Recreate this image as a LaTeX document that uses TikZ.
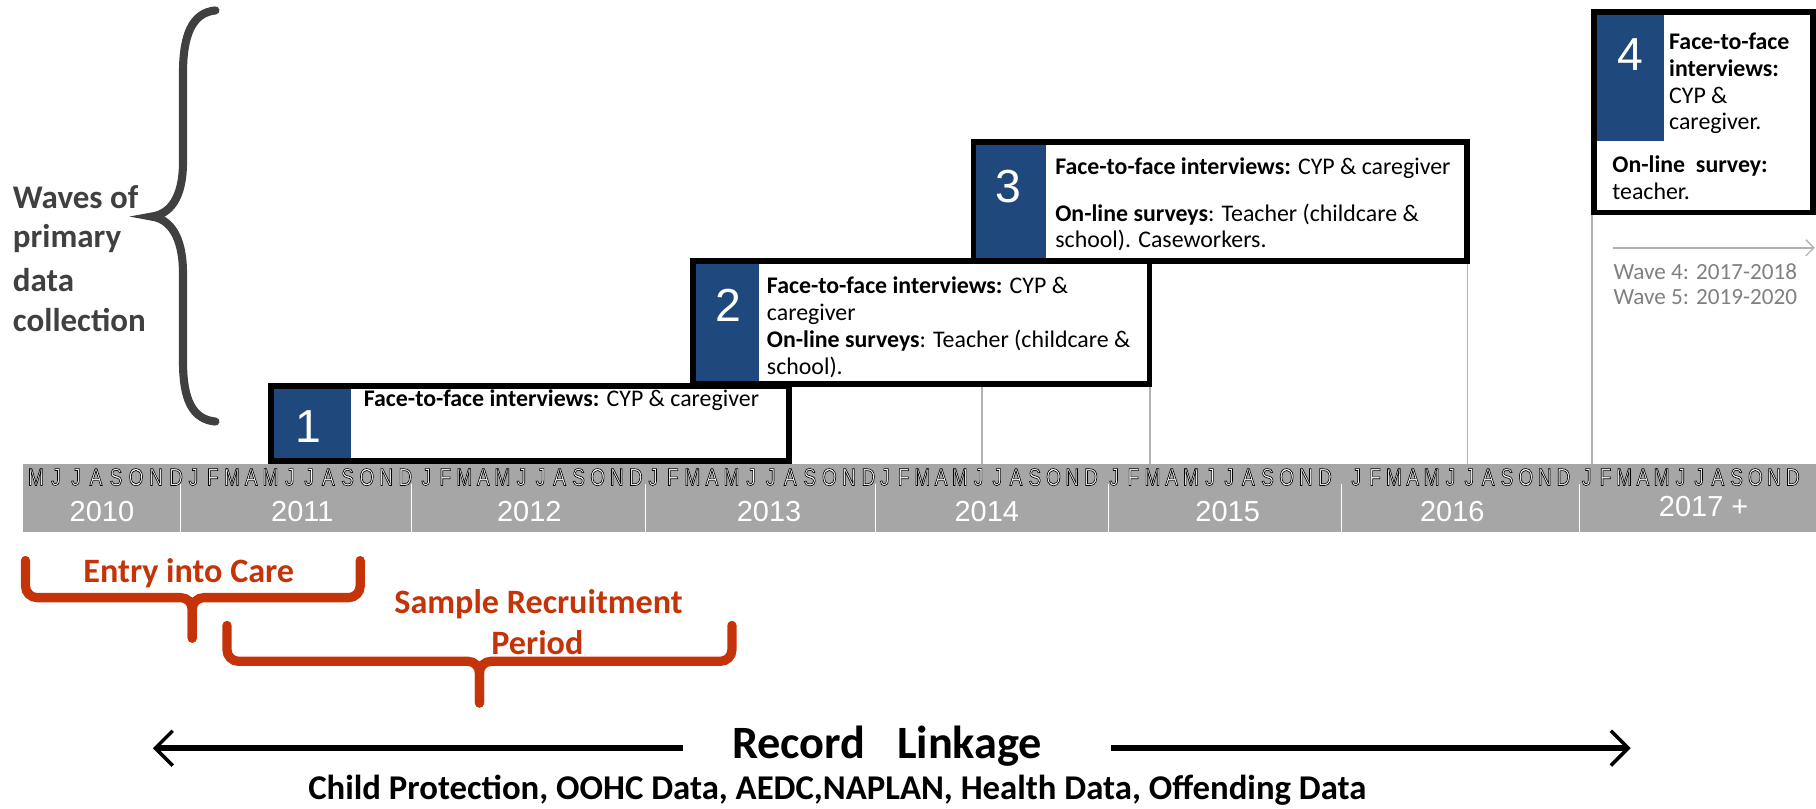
\documentclass[tikz,border=0pt]{standalone}
\usepackage{fontspec}
\setmainfont{Carlito}
\newfontfamily\arialf{Liberation Sans}
\newfontfamily\monthf[FakeStretch=0.78]{Liberation Sans}
\newcommand\outlinetext[1]{\special{pdf:literal direct 2 Tr 0.55 w 0 G}#1\special{pdf:literal direct 0 Tr}}
\usetikzlibrary{arrows.meta}
\definecolor{wblue}{RGB}{31,73,125}
\definecolor{bargray}{RGB}{166,166,166}
\definecolor{bracered}{RGB}{196,52,8}
\definecolor{bracegray}{RGB}{64,64,64}
\definecolor{lightline}{RGB}{178,178,178}
\definecolor{wavegray}{RGB}{128,128,128}
\begin{document}
\begin{tikzpicture}[x=1pt,y=-1pt,
  boxtxt/.style={anchor=base west,inner sep=0pt,font=\fontsize{20.6}{23}\selectfont},
  numtxt/.style={text=white,inner sep=0pt,font=\arialf\fontsize{40}{42}\selectfont},
  waveframe/.style={draw=black,line width=5pt},
  bluesq/.style={fill=wblue},
  month/.style={inner sep=0pt,text=white,font=\monthf\fontsize{21}{21}\selectfont},
  year/.style={inner sep=0pt,text=white,font=\arialf\fontsize{25}{25}\selectfont},
  yeardiv/.style={draw=white,line width=0.9pt},
  redbrace/.style={draw=bracered,line width=8pt,rounded corners=10pt,line cap=round},
  redtxt/.style={anchor=base,inner sep=0pt,text=bracered,font=\bfseries\fontsize{29.5}{30}\selectfont},
  gline/.style={draw=lightline,line width=1.5pt},
  graytxt/.style={anchor=base west,inner sep=0pt,text=bracegray,font=\bfseries\fontsize{28.5}{30}\selectfont},
  wavetxt/.style={anchor=base west,inner sep=0pt,text=wavegray,font=\fontsize{20}{23}\selectfont},
  linkarrow/.style={draw=black,line width=5pt,-{Straight Barb[length=15pt,width=30pt,line width=3pt]}}
]
\useasboundingbox (0,0) rectangle (1568,698);

% ---------- timeline bar ----------
\fill[bargray] (20,401) rectangle (1568,459);
\foreach \dx in {156,355,557,756,957,1158,1364}
  \draw[yeardiv] (\dx,418) -- (\dx,459);

\foreach \L [count=\k from 0] in {M,J,J,A,S,O,N,D}
  \node[month] (m2010-\k) at ({31+\k*17.29},412) {\outlinetext{\L}};
\foreach \yr/\fx/\st in {2011/167/16.64,2012/368/16.45,2013/564/16.9,2014/764/16.18,2015/962/16.55,2016/1171/16.27,2017/1370/16.18}{
  \foreach \L [count=\k from 0] in {J,F,M,A,M,J,J,A,S,O,N,D}
    \node[month] (m\yr-\k) at ({\fx+\k*\st},412) {\outlinetext{\L}};
}

\node[year] (y2010) at (88,442) {2010};
\node[year] (y2011) at (261,442) {2011};
\node[year] (y2012) at (457,442) {2012};
\node[year] (y2013) at (664,442) {2013};
\node[year] (y2014) at (852,442) {2014};
\node[year] (y2015) at (1060,442) {2015};
\node[year] (y2016) at (1254,442) {2016};
\node[year] (y2017) at (1471,437) {2017 +};

% ---------- gray guide lines ----------
\coordinate (g1a) at (848,333);  \coordinate (g1b) at (848,401);
\coordinate (g2a) at (993,333);  \coordinate (g2b) at (993,401);
\coordinate (g3a) at (1267,227); \coordinate (g3b) at (1267,401);
\coordinate (g4a) at (1374.5,186); \coordinate (g4b) at (1374.5,401);
\draw[gline] (g1a) -- (g1b);
\draw[gline] (g2a) -- (g2b);
\draw[gline] (g3a) -- (g3b);
\draw[gline] (g4a) -- (g4b);

% ---------- wave 3 ----------
\fill[bluesq] (843,125) rectangle (903,224);
\draw[waveframe] (840.5,122.5) rectangle (1266.5,225.5);
\node[numtxt] (n3) at (871,161) {3};
\node[boxtxt] (t3a) at (911,151) {\textbf{Face-to-face interviews:} CYP \& caregiver};
\node[boxtxt] (t3b) at (911,191) {\textbf{On-line surveys}: Teacher (childcare \&};
\node[boxtxt] (t3c) at (911,214) {school). Caseworkers.};

% ---------- wave 2 ----------
\fill[bluesq] (600,228) rectangle (655,330);
\draw[waveframe] (598.5,225.5) rectangle (992.5,331.5);
\node[numtxt] (n2) at (629,264) {2};
\node[boxtxt] (t2a) at (662,253) {\textbf{Face-to-face interviews:} CYP \&};
\node[boxtxt] (t2b) at (662,277) {caregiver};
\node[boxtxt] (t2c) at (662,300) {\textbf{On-line surveys}: Teacher (childcare \&};
\node[boxtxt] (t2d) at (662,323) {school).};

% ---------- wave 1 ----------
\fill[bluesq] (236,335) rectangle (303,398);
\draw[waveframe] (234,333) rectangle (681,398);
\node[numtxt] (n1) at (266,368) {1};
\node[boxtxt] (t1a) at (314,351) {\textbf{Face-to-face interviews:} CYP \& caregiver};

% ---------- wave 4 ----------
\fill[bluesq] (1379,13) rectangle (1437,122);
\draw[waveframe] (1376.5,10.5) rectangle (1565.5,183.5);
\node[numtxt] (n4) at (1408,47) {4};
\node[boxtxt,align=left] (t4a) at (1441,112) {\textbf{Face-to-face}\\\textbf{interviews:}\\CYP \&\\caregiver.};
\node[boxtxt,align=left] (t4e) at (1392,172) {\textbf{On-line\ \ survey:}\\teacher.};

\coordinate (wa) at (1393,214);
\coordinate (wb) at (1567,214);
\draw[draw=lightline,line width=1.2pt,-{Straight Barb[length=7pt,width=14pt]}] (wa) -- (wb);
\node[wavetxt] (w4) at (1393,241) {Wave 4: 2017-2018};
\node[wavetxt] (w5) at (1393,263) {Wave 5: 2019-2020};

% ---------- left brace ----------
\draw[draw=bracegray,line width=7pt,line cap=round]
  (186,9) .. controls (166,11) and (158,30) .. (158,63) -- (158,140)
  .. controls (158,172) and (146,185) .. (131,187)
  .. controls (146,189) and (158,203) .. (158,236) -- (158,312)
  .. controls (158,345) and (166,362) .. (186,364);
\node[graytxt] (l1) at (11,180) {Waves of};
\node[graytxt] (l2) at (11,214) {primary};
\node[graytxt] (l3) at (11,252) {data};
\node[graytxt] (l4) at (11,286) {collection};

% ---------- red braces ----------
\draw[redbrace] (22,484) -- (22,516) -- (166,516) -- (166,551);
\draw[redbrace] (311,484) -- (311,516) -- (166,516) -- (166,551);
\node[redtxt] (entry) at (163,503) {Entry into Care};
\draw[redbrace] (196,540) -- (196,571) -- (414,571) -- (414,607);
\draw[redbrace] (632,540) -- (632,571) -- (414,571) -- (414,607);
\node[redtxt] (samp1) at (465,530) {Sample Recruitment};
\node[redtxt] (samp2) at (464,565) {Period};

% ---------- record linkage ----------
\node[anchor=base,inner sep=0pt,font=\bfseries\fontsize{40}{40}\selectfont] (rl) at (766,655) {Record\ \ \ Linkage};
\coordinate (la) at (590,646); \coordinate (lb) at (132,646);
\coordinate (ra) at (959,646); \coordinate (rb) at (1408,646);
\draw[linkarrow] (la) -- (lb);
\draw[linkarrow] (ra) -- (rb);
\node[anchor=base,inner sep=0pt,font=\bfseries\fontsize{30}{31}\selectfont] (src) at (723,690) {Child Protection, OOHC Data, AEDC,NAPLAN, Health Data, Offending Data};
\end{tikzpicture}
\end{document}
